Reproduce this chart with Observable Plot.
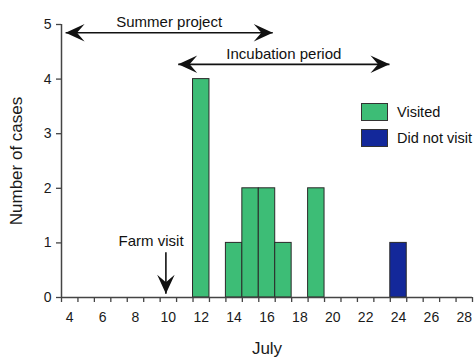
<!DOCTYPE html>
<html><head><meta charset="utf-8">
<script src="https://cdn.jsdelivr.net/npm/d3@7"></script>
<script src="https://cdn.jsdelivr.net/npm/@observablehq/plot@0.6"></script>
<style>
html,body{margin:0;padding:0;background:#fff;}
#wrap{position:relative;width:474px;height:361px;font-family:"Liberation Sans",Arial,sans-serif;}
.leg{position:absolute;left:361px;display:flex;align-items:center;font-size:14.5px;color:#111;height:18px;}
.sw{width:27px;height:18px;border:1px solid #333;box-sizing:border-box;margin-right:9px;}
</style></head><body><div id="wrap"></div>
<script>
// Data
const days = [12, 14, 15, 16, 17, 19, 24];
const cases = [4, 1, 2, 2, 1, 2, 1];
const groups = ["Visited", "Visited", "Visited", "Visited", "Visited", "Visited", "Did not visit"];
const groupNames = ["Visited", "Did not visit"];
const groupColors = ["#3dbd76", "#13289a"];
const xTickLabels = [4, 6, 8, 10, 12, 14, 16, 18, 20, 22, 24, 26, 28];
const xTickBounds = [3.5, 4.5, 5.5, 6.5, 7.5, 8.5, 9.5, 10.5, 11.5, 12.5, 13.5, 14.5, 15.5, 16.5, 17.5, 18.5, 19.5, 20.5, 21.5, 22.5, 23.5, 24.5, 25.5, 26.5, 27.5, 28.5];
const yTicks = [0, 1, 2, 3, 4, 5];
// Annotations
const spanLabels = ["Summer project", "Incubation period"];
const spanStart = [3.75, 10.6];
const spanEnd = [16.35, 23.45];
const spanArrowY = [4.85, 4.27];
const spanTextY = [5.05, 4.46];
const farmLabel = "Farm visit";
const farmDay = 9.85;
const farmArrowTop = 0.83;
const farmArrowTip = 0.07;
const farmTextX = 8.95;
const farmTextY = 1.03;

const bars = days.map((d, i) => ({day: d, count: cases[i], group: groups[i]}));
const spans = spanLabels.map((s, i) => ({label: s, a: spanStart[i], b: spanEnd[i], mid: (spanStart[i] + spanEnd[i]) / 2, y: spanArrowY[i], ty: spanTextY[i]}));
const spanHeads = spans.flatMap(s => [{x: s.a, y: s.y, rot: -90}, {x: s.b, y: s.y, rot: 90}]);
const farm = [{x: farmDay, y1: farmArrowTop, y2: farmArrowTip, tx: farmTextX, ty: farmTextY, label: farmLabel}];
const farmHeads = farm.map(f => ({x: f.x, y: f.y2, rot: 180}));

// stealth arrowhead symbol, tip at origin, pointing up
const stealth = {
  draw(context, size) {
    const r = Math.sqrt(size / Math.PI);
    const L = r, w = 0.46 * r, n = 0.6 * r;
    context.moveTo(0, 0);
    context.lineTo(w, L);
    context.lineTo(0, n);
    context.lineTo(-w, L);
    context.closePath();
  }
};

const axisColor = "#444";
const ink = "#111";
const chart = Plot.plot({
  width: 474,
  height: 361,
  marginLeft: 61,
  marginRight: 2,
  marginTop: 24,
  marginBottom: 64,
  style: {fontFamily: "'Liberation Sans', Arial, sans-serif", fontSize: "14px", color: "#1a1a1a", background: "white"},
  x: {domain: [3.5, 28.5], axis: null},
  y: {domain: [0, 5], axis: null},
  color: {domain: groupNames, range: groupColors},
  marks: [
    Plot.rectY(bars, {x1: d => d.day - 0.5, x2: d => d.day + 0.5, y1: 0, y2: "count", fill: "group", stroke: "#2a2a2a", strokeWidth: 1}),
    Plot.ruleY([0], {stroke: axisColor, strokeWidth: 1.5}),
    Plot.ruleX([3.5], {stroke: axisColor, strokeWidth: 1.5}),
    Plot.axisX({ticks: xTickBounds, tickSize: 5, tickFormat: () => "", label: null, stroke: axisColor, strokeWidth: 1.3}),
    Plot.axisX({ticks: xTickLabels, tickSize: 0, tickPadding: 15, tickFormat: d => String(d), label: "July", labelAnchor: "center", labelOffset: 56, labelArrow: "none", fontSize: 14}),
    Plot.axisY({ticks: yTicks, tickSize: 5, tickPadding: 5, tickFormat: d => String(d), label: "Number of cases", labelAnchor: "center", labelOffset: 52, labelArrow: "none", stroke: axisColor, strokeWidth: 1.3, fontSize: 14}),
    Plot.link(spans, {x1: "a", x2: "b", y1: "y", y2: "y", strokeWidth: 1.6, stroke: ink}),
    Plot.dot(spanHeads, {x: "x", y: "y", rotate: "rot", symbol: stealth, r: 19, fill: ink, stroke: null}),
    Plot.text(spans, {x: "mid", y: "ty", text: "label", fontSize: 15, fill: ink}),
    Plot.link(farm, {x1: "x", x2: "x", y1: "y1", y2: "y2", strokeWidth: 1.6, stroke: ink}),
    Plot.dot(farmHeads, {x: "x", y: "y", rotate: "rot", symbol: stealth, r: 19, fill: ink, stroke: null}),
    Plot.text(farm, {x: "tx", y: "ty", text: "label", fontSize: 15, fill: ink})
  ]
});
const wrap = document.getElementById("wrap");
wrap.appendChild(chart);
chart.querySelectorAll("text").forEach(t => {
  const s = t.textContent;
  if (s === "Number of cases" || s === "July") t.setAttribute("font-size", "17");
});
// Legend
const legTops = [103, 129];
groupNames.forEach((g, i) => {
  const row = document.createElement("div");
  row.className = "leg";
  row.style.top = legTops[i] + "px";
  const sw = document.createElement("div");
  sw.className = "sw";
  sw.style.background = groupColors[i];
  row.appendChild(sw);
  const t = document.createElement("span");
  t.textContent = g;
  row.appendChild(t);
  wrap.appendChild(row);
});
</script></body></html>
